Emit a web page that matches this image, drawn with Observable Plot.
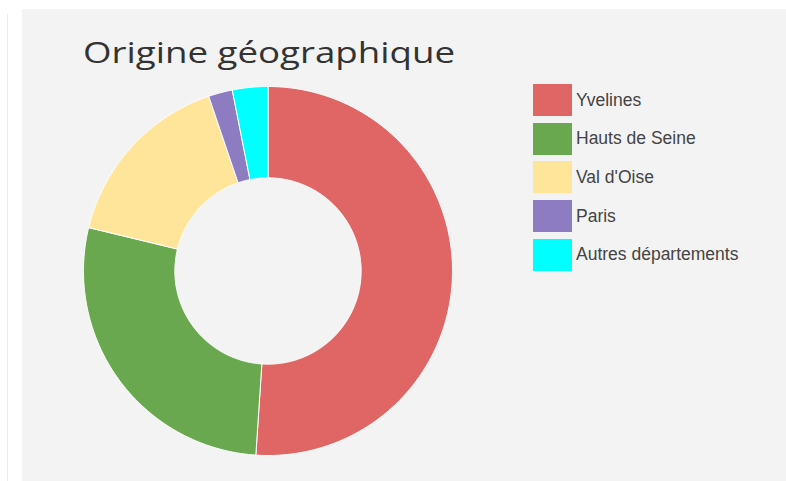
<!DOCTYPE html>
<html>
<head>
<meta charset="utf-8">
<script src="https://cdn.jsdelivr.net/npm/d3@7"></script>
<script src="https://cdn.jsdelivr.net/npm/@observablehq/plot@0.6"></script>
<style>
  html, body { margin: 0; padding: 0; background: #ffffff; width: 786px; height: 481px; overflow: hidden; }
  #edge { position: absolute; left: 7px; top: 14px; width: 1px; height: 467px; background: #ececec; }
  #panel { position: absolute; left: 22px; top: 9px; width: 764px; height: 472px; background: #f3f3f3; }
  #title { position: absolute; left: 0; top: 0; }
  #chart { position: absolute; left: 60.5px; top: 77px; }
  #legend { position: absolute; left: 511px; top: 75px; font-family: "Liberation Sans", Arial, sans-serif; font-size: 17.5px; color: #444; }
  .row { position: absolute; left: 0; height: 32px; display: flex; align-items: center; white-space: nowrap; }
  .sw { width: 39px; height: 32px; margin-right: 4px; }
</style>
</head>
<body>
<div id="edge"></div>
<div id="panel">
  <svg id="title" width="764" height="80"></svg>
  <div id="chart"></div>
  <div id="legend"></div>
</div>
<script>
const titleText = "Origine géographique";
const categories = ["Yvelines", "Hauts de Seine", "Val d'Oise", "Paris", "Autres départements"];
const values = [51, 27.7, 16, 2.1, 3.1];
const colors = ["#e06666", "#6aa84f", "#ffe599", "#8e7cc3", "#00ffff"];

// Title
const tsvg = d3.select("#title");
tsvg.append("text")
  .attr("x", 61).attr("y", 54.3)
  .attr("font-family", "'Open Sans', sans-serif")
  .attr("font-size", 29.5)
  .attr("fill", "#333")
  .attr("textLength", 372)
  .attr("lengthAdjust", "spacingAndGlyphs")
  .text(titleText);

// Donut geometry from data
const innerRatio = 0.505;
const arcs = d3.pie().sort(null).value(d => d)(values);
const pts = [];
arcs.forEach((a, i) => {
  const name = categories[i];
  const n = Math.max(2, Math.ceil((a.endAngle - a.startAngle) / 0.01));
  const ring = [];
  for (let k = 0; k <= n; k++) {
    const t = a.startAngle + (a.endAngle - a.startAngle) * k / n;
    ring.push([Math.sin(t), Math.cos(t)]);
  }
  for (let k = n; k >= 0; k--) {
    const t = a.startAngle + (a.endAngle - a.startAngle) * k / n;
    ring.push([innerRatio * Math.sin(t), innerRatio * Math.cos(t)]);
  }
  ring.push(ring[0]);
  ring.forEach(([x, y]) => pts.push({name, x, y}));
});

const size = 369;
const chart = Plot.plot({
  width: size,
  height: size,
  margin: 0,
  style: { background: "transparent", overflow: "visible" },
  x: { domain: [-1, 1], axis: null },
  y: { domain: [-1, 1], axis: null },
  color: { domain: categories, range: colors },
  marks: [
    Plot.line(pts, {
      x: "x", y: "y", z: "name", fill: "name",
      stroke: "#ffffff", strokeWidth: 1, curve: "linear"
    })
  ]
});
document.getElementById("chart").appendChild(chart);

// Legend from the plot's color scale
const cs = chart.scale("color");
const legend = d3.select("#legend");
cs.domain.forEach((name, i) => {
  const row = legend.append("div").attr("class", "row").style("top", (i * 38.7) + "px");
  row.append("div").attr("class", "sw").style("background", cs.range[i]);
  row.append("span").text(name);
});
</script>
</body>
</html>
